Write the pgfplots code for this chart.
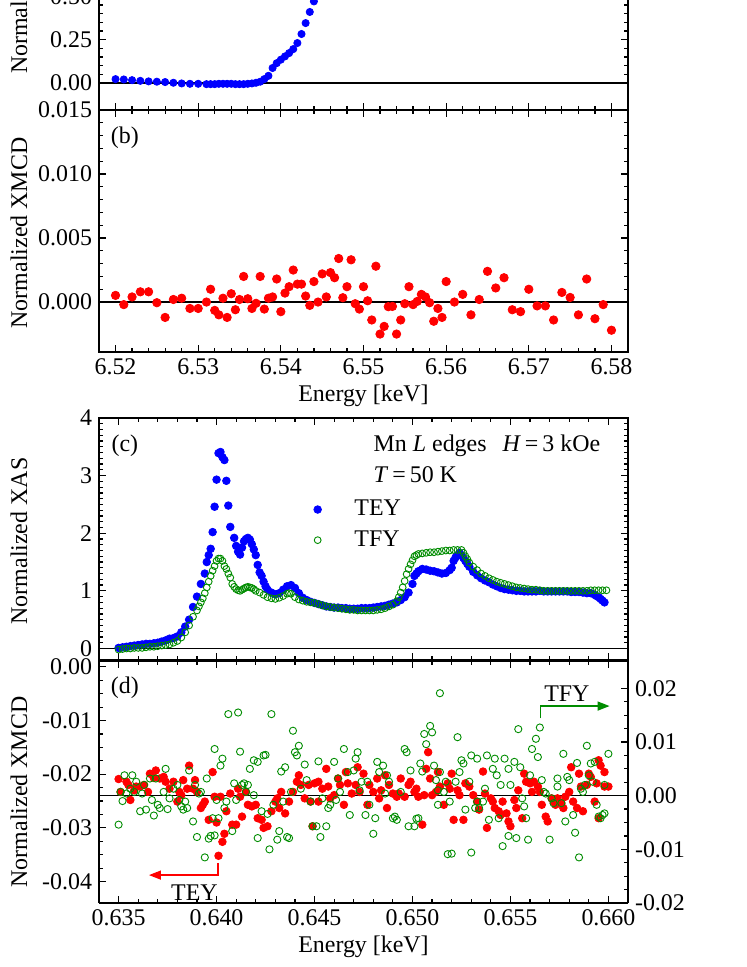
\documentclass[border=0pt]{standalone}
\usepackage{fontspec}
\setmainfont{Liberation Serif}
\usepackage{pgfplots}
\usepackage{pgfplotstable}
\pgfplotsset{compat=1.18}
\usetikzlibrary{arrows.meta}

\definecolor{tfygreen}{RGB}{0,140,0}

% panel (a): XAS near the K edge (top cut off)
\pgfplotstableread{
x y
6.5200 0.023
6.5210 0.021
6.5220 0.017
6.5230 0.013
6.5240 0.010
6.5250 0.008
6.5260 0.006
6.5270 0.002
6.5280 -0.002
6.5290 -0.004
6.5300 -0.004
6.5310 -0.006
6.5315 -0.006
6.5320 -0.006
6.5325 -0.004
6.5330 -0.004
6.5335 -0.004
6.5340 -0.004
6.5345 -0.006
6.5350 -0.006
6.5355 -0.006
6.5360 -0.004
6.5365 -0.002
6.5370 0.002
6.5375 0.008
6.5380 0.023
6.5385 0.042
6.5390 0.087
6.5395 0.115
6.5400 0.135
6.5405 0.154
6.5410 0.173
6.5415 0.196
6.5420 0.231
6.5425 0.283
6.5430 0.346
6.5435 0.410
6.5440 0.471
}\xasK

% panel (b): XMCD, K edge
\pgfplotstableread{
x y
6.5200 0.00052
6.5210 -0.0002
6.5220 0.0004
6.5230 0.0008
6.5240 0.0008
6.5250 -0.00005
6.5260 -0.0012
6.5270 0.0002
6.5280 0.0003
6.5290 -0.0005
6.5300 -0.0005
6.5310 0.0000
6.5315 0.0010
6.5320 -0.00065
6.5325 -0.0010
6.5330 0.0003
6.5335 -0.0012
6.5340 0.00065
6.5345 -0.0006
6.5350 0.0002
6.5355 0.0020
6.5360 0.00026
6.5365 -0.0005
6.5370 -0.0001
6.5375 0.0020
6.5380 -0.00055
6.5385 0.0003
6.5390 0.0004
6.5395 0.0018
6.5400 -0.00075
6.5405 0.0007
6.5410 0.0012
6.5415 0.0025
6.5420 0.0014
6.5425 0.0014
6.5430 0.00047
6.5435 -0.00026
6.5440 0.0016
6.5445 0.0000
6.5450 0.0022
6.5455 0.0004
6.5460 0.0023
6.5465 0.0019
6.5470 0.0034
6.5475 0.00034
6.5480 0.0012
6.5485 0.0033
6.5490 -0.00013
6.5495 -0.00055
6.5500 0.0012
6.5505 0.0001
6.5510 -0.0014
6.5515 0.0028
6.5520 -0.0025
6.5525 -0.0019
6.5530 -0.00036
6.5535 -0.00034
6.5540 -0.0025
6.5545 -0.0014
6.5550 -0.00013
6.5555 0.0012
6.5560 -0.0002
6.5565 0.00005
6.5570 0.0006
6.5575 0.0004
6.5580 -0.00005
6.5585 -0.0015
6.5590 -0.0005
6.5595 -0.0012
6.5600 0.0016
6.5610 0.0000
6.5620 0.0006
6.5630 -0.0010
6.5640 0.0002
6.5650 0.0024
6.5660 0.0011
6.5670 0.0019
6.5680 -0.0006
6.5690 -0.00075
6.5700 0.0010
6.5710 -0.0003
6.5720 -0.0003
6.5730 -0.0014
6.5740 0.00075
6.5750 0.00036
6.5760 -0.0010
6.5770 0.0018
6.5780 -0.0013
6.5790 -0.0002
6.5800 -0.0022
}\xmcdK

% panel (c): XAS, Mn L edges
\pgfplotstableread{
x y
0.6350 0.01
0.6352 0.02
0.6354 0.03
0.6356 0.04
0.6358 0.05
0.6360 0.06
0.6362 0.07
0.6364 0.08
0.6366 0.08
0.6368 0.09
0.6370 0.10
0.6372 0.12
0.6374 0.14
0.6376 0.17
0.6378 0.18
0.6380 0.21
0.6382 0.28
0.6384 0.38
0.6386 0.50
0.6388 0.72
0.6390 0.90
0.6392 1.12
0.6394 1.30
0.6395 1.50
0.6396 1.62
0.6397 1.73
0.6398 2.02
0.6399 2.46
0.6400 2.93
0.6401 3.39
0.6402 3.41
0.6403 3.32
0.6404 3.27
0.6405 2.91
0.6406 2.48
0.6407 2.11
0.6409 1.92
0.6410 1.78
0.6411 1.68
0.6412 1.63
0.6413 1.75
0.6414 1.86
0.6415 1.90
0.6416 1.92
0.6417 1.89
0.6418 1.81
0.6419 1.72
0.6420 1.62
0.6421 1.45
0.6422 1.32
0.6423 1.26
0.6424 1.16
0.6425 1.08
0.6426 1.02
0.6428 0.97
0.6430 0.94
0.6432 0.96
0.6434 1.02
0.6436 1.08
0.6438 1.10
0.6440 1.05
0.6442 0.96
0.6444 0.88
0.6446 0.84
0.6448 0.81
0.6450 0.79
0.6452 0.77
0.6454 0.75
0.6456 0.73
0.6458 0.72
0.6460 0.71
0.6462 0.71
0.6464 0.70
0.6466 0.70
0.6468 0.69
0.6470 0.69
0.6472 0.69
0.6474 0.70
0.6476 0.70
0.6478 0.70
0.6480 0.71
0.6482 0.72
0.6484 0.73
0.6486 0.74
0.6488 0.76
0.6490 0.78
0.6492 0.80
0.6494 0.84
0.6496 0.89
0.6498 0.97
0.6500 1.12
0.6501 1.26
0.6502 1.30
0.6503 1.34
0.6505 1.38
0.6507 1.37
0.6509 1.35
0.6511 1.34
0.6513 1.32
0.6515 1.30
0.6517 1.31
0.6519 1.36
0.6520 1.40
0.6521 1.52
0.6522 1.58
0.6523 1.62
0.6524 1.66
0.6525 1.62
0.6526 1.57
0.6527 1.52
0.6528 1.47
0.6529 1.42
0.6531 1.33
0.6533 1.27
0.6535 1.22
0.6537 1.18
0.6539 1.15
0.6541 1.11
0.6543 1.08
0.6545 1.05
0.6547 1.03
0.6549 1.02
0.6551 1.01
0.6553 1.00
0.6555 1.00
0.6557 0.99
0.6559 0.99
0.6561 0.99
0.6563 0.99
0.6565 1.00
0.6567 0.99
0.6569 0.99
0.6571 0.99
0.6573 0.99
0.6575 0.99
0.6577 0.99
0.6579 0.99
0.6581 0.98
0.6583 0.98
0.6585 0.98
0.6587 0.97
0.6589 0.96
0.6591 0.96
0.6593 0.93
0.6594 0.91
0.6595 0.89
0.6596 0.86
0.6597 0.83
0.6598 0.80
}\xasTEY

\pgfplotstableread{
x y
0.6350 -0.02
0.6352 -0.01
0.6354 0.00
0.6356 0.00
0.6358 0.01
0.6360 0.01
0.6362 0.01
0.6364 0.02
0.6366 0.03
0.6368 0.03
0.6370 0.04
0.6372 0.05
0.6374 0.06
0.6376 0.07
0.6378 0.10
0.6380 0.13
0.6382 0.19
0.6384 0.28
0.6386 0.40
0.6388 0.55
0.6390 0.66
0.6391 0.73
0.6392 0.80
0.6393 0.87
0.6394 0.96
0.6395 1.06
0.6396 1.16
0.6397 1.26
0.6398 1.35
0.6399 1.43
0.6400 1.52
0.6401 1.56
0.6402 1.56
0.6403 1.52
0.6404 1.43
0.6405 1.38
0.6406 1.30
0.6407 1.23
0.6408 1.12
0.6409 1.07
0.6410 1.03
0.6411 1.01
0.6412 1.00
0.6413 1.02
0.6414 1.04
0.6415 1.06
0.6416 1.07
0.6417 1.06
0.6418 1.05
0.6419 1.03
0.6420 1.00
0.6422 0.97
0.6424 0.93
0.6426 0.89
0.6428 0.87
0.6430 0.86
0.6432 0.88
0.6434 0.91
0.6436 0.95
0.6437 0.96
0.6438 0.95
0.6440 0.89
0.6442 0.85
0.6444 0.83
0.6446 0.81
0.6448 0.80
0.6450 0.79
0.6452 0.77
0.6454 0.75
0.6456 0.73
0.6458 0.72
0.6460 0.71
0.6462 0.70
0.6464 0.69
0.6466 0.68
0.6468 0.67
0.6470 0.67
0.6472 0.66
0.6474 0.66
0.6476 0.66
0.6478 0.66
0.6480 0.66
0.6482 0.67
0.6484 0.68
0.6486 0.70
0.6488 0.73
0.6490 0.76
0.6492 0.82
0.6493 0.89
0.6494 0.97
0.6495 1.06
0.6496 1.17
0.6497 1.29
0.6498 1.38
0.6499 1.46
0.6500 1.53
0.6501 1.60
0.6502 1.62
0.6503 1.64
0.6505 1.65
0.6507 1.66
0.6509 1.67
0.6511 1.67
0.6513 1.68
0.6515 1.69
0.6517 1.70
0.6519 1.70
0.6521 1.71
0.6523 1.71
0.6525 1.71
0.6526 1.66
0.6527 1.60
0.6528 1.55
0.6529 1.49
0.6531 1.42
0.6533 1.36
0.6535 1.30
0.6537 1.26
0.6539 1.22
0.6541 1.19
0.6543 1.16
0.6545 1.14
0.6547 1.12
0.6549 1.10
0.6551 1.08
0.6553 1.06
0.6555 1.05
0.6557 1.04
0.6559 1.03
0.6561 1.02
0.6563 1.02
0.6565 1.01
0.6567 1.00
0.6569 1.00
0.6571 1.00
0.6573 1.00
0.6575 1.00
0.6577 1.00
0.6579 1.00
0.6581 1.00
0.6583 1.00
0.6585 1.00
0.6587 1.00
0.6589 1.00
0.6591 1.01
0.6593 1.01
0.6595 1.01
0.6597 1.01
0.6599 1.01
}\xasTFY

% panel (d): XMCD, TEY on the left scale
\pgfplotstableread{
x y
0.6350 -0.0209
0.6351 -0.0233
0.6354 -0.0214
0.6355 -0.0220
0.6356 -0.0248
0.6358 -0.0230
0.6359 -0.0223
0.6361 -0.0223
0.6363 -0.0220
0.6365 -0.0233
0.6366 -0.0199
0.6368 -0.0207
0.6369 -0.0193
0.6371 -0.0208
0.6373 -0.0205
0.6374 -0.0214
0.6376 -0.0227
0.6378 -0.0214
0.6380 -0.0251
0.6381 -0.0233
0.6382 -0.0239
0.6383 -0.0211
0.6385 -0.0227
0.6386 -0.0184
0.6388 -0.0227
0.6389 -0.0211
0.6390 -0.0233
0.6392 -0.0263
0.6393 -0.0257
0.6394 -0.0251
0.6396 -0.0285
0.6398 -0.0196
0.6399 -0.0242
0.6400 -0.0290
0.6401 -0.0352
0.6402 -0.0242
0.6403 -0.0326
0.6404 -0.0311
0.6405 -0.0269
0.6407 -0.0236
0.6408 -0.0294
0.6410 -0.0294
0.6411 -0.0227
0.6412 -0.0242
0.6413 -0.0279
0.6415 -0.0233
0.6416 -0.0257
0.6418 -0.0260
0.6420 -0.0257
0.6421 -0.0282
0.6423 -0.0285
0.6424 -0.0300
0.6426 -0.0297
0.6428 -0.0269
0.6430 -0.0251
0.6431 -0.0245
0.6432 -0.0263
0.6433 -0.0233
0.6435 -0.0273
0.6437 -0.0251
0.6439 -0.0233
0.6441 -0.0214
0.6442 -0.0202
0.6443 -0.0220
0.6445 -0.0245
0.6447 -0.0220
0.6448 -0.0251
0.6449 -0.0297
0.6450 -0.0217
0.6452 -0.0214
0.6452 -0.0251
0.6454 -0.0227
0.6456 -0.0190
0.6457 -0.0223
0.6458 -0.0245
0.6460 -0.0239
0.6462 -0.0208
0.6463 -0.0220
0.6465 -0.0257
0.6466 -0.0196
0.6467 -0.0217
0.6469 -0.0236
0.6471 -0.0220
0.6472 -0.0187
0.6473 -0.0233
0.6475 -0.0199
0.6477 -0.0257
0.6478 -0.0220
0.6480 -0.0233
0.6482 -0.0208
0.6483 -0.0245
0.6484 -0.0230
0.6486 -0.0202
0.6487 -0.0263
0.6488 -0.0220
0.6490 -0.0236
0.6492 -0.0242
0.6493 -0.0236
0.6494 -0.0208
0.6496 -0.0242
0.6498 -0.0220
0.6499 -0.0214
0.6501 -0.0233
0.6502 -0.0227
0.6503 -0.0242
0.6505 -0.0294
0.6506 -0.0239
0.6507 -0.0190
0.6508 -0.0159
0.6509 -0.0208
0.6510 -0.0239
0.6512 -0.0233
0.6513 -0.0196
0.6514 -0.0223
0.6516 -0.0257
0.6518 -0.0217
0.6519 -0.0227
0.6520 -0.0199
0.6521 -0.0285
0.6523 -0.0230
0.6524 -0.0239
0.6526 -0.0285
0.6527 -0.0217
0.6529 -0.0223
0.6531 -0.0239
0.6533 -0.0251
0.6534 -0.0266
0.6536 -0.0195
0.6537 -0.0236
0.6538 -0.0300
0.6540 -0.0245
0.6541 -0.0251
0.6542 -0.0263
0.6544 -0.0269
0.6545 -0.0276
0.6546 -0.0251
0.6548 -0.0273
0.6549 -0.0288
0.6550 -0.0297
0.6552 -0.0248
0.6553 -0.0263
0.6554 -0.0230
0.6556 -0.0282
0.6557 -0.0199
0.6558 -0.0214
0.6560 -0.0217
0.6561 -0.0233
0.6562 -0.0214
0.6564 -0.0223
0.6565 -0.0233
0.6566 -0.0257
0.6568 -0.0279
0.6569 -0.0288
0.6571 -0.0245
0.6572 -0.0251
0.6573 -0.0257
0.6574 -0.0245
0.6576 -0.0254
0.6577 -0.0263
0.6578 -0.0242
0.6580 -0.0233
0.6581 -0.0187
0.6582 -0.0251
0.6584 -0.0263
0.6585 -0.0199
0.6586 -0.0223
0.6587 -0.0269
0.6589 -0.0220
0.6590 -0.0199
0.6591 -0.0205
0.6593 -0.0251
0.6594 -0.0217
0.6595 -0.0282
0.6595 -0.0174
0.6596 -0.0184
0.6598 -0.0223
0.6598 -0.0196
0.6600 -0.0223
}\mcdTEY

% panel (d): XMCD, TFY on the right scale
\pgfplotstableread{
x y
0.6350 -0.0054
0.6351 0.0007
0.6352 -0.0010
0.6353 0.0038
0.6354 0.0004
0.6356 0.0013
0.6357 0.0038
0.6358 0.0007
0.6359 0.0026
0.6361 -0.0029
0.6362 0.0004
0.6363 0.0020
0.6364 -0.0026
0.6366 0.0032
0.6367 -0.0008
0.6368 -0.0037
0.6369 0.0032
0.6370 -0.0017
0.6371 -0.0023
0.6373 0.0007
0.6374 0.0050
0.6375 -0.0025
0.6376 -0.0005
0.6378 0.0013
0.6380 0.0020
0.6381 -0.0008
0.6382 -0.0020
0.6383 -0.0026
0.6384 -0.0011
0.6385 -0.0023
0.6386 0.0047
0.6388 -0.0048
0.6389 0.0020
0.6390 -0.0077
0.6391 0.0004
0.6392 0.0007
0.6394 -0.0115
0.6395 0.0032
0.6396 -0.0080
0.6397 -0.0075
0.6398 -0.0042
0.6399 -0.0074
0.6399 0.0087
0.6400 -0.0008
0.6401 -0.0042
0.6402 0.0056
0.6403 0.0069
0.6404 -0.0023
0.6405 -0.0011
0.6406 0.0152
0.6408 -0.0066
0.6409 0.0023
0.6410 -0.0008
0.6411 0.0155
0.6412 0.0082
0.6413 0.0020
0.6414 0.0023
0.6415 0.0007
0.6416 0.0020
0.6417 0.0050
0.6419 0.0066
0.6419 0.0001
0.6421 0.0063
0.6421 -0.0079
0.6423 -0.0029
0.6424 0.0075
0.6425 0.0076
0.6426 -0.0034
0.6427 -0.0100
0.6428 0.0152
0.6429 -0.0017
0.6431 -0.0082
0.6432 -0.0066
0.6433 0.0045
0.6434 -0.0011
0.6435 0.0053
0.6436 -0.0077
0.6437 -0.0079
0.6438 0.0007
0.6439 0.0121
0.6440 0.0081
0.6441 0.0075
0.6442 0.0093
0.6443 0.0013
0.6445 0.0058
0.6446 0.0029
0.6448 -0.0011
0.6449 -0.0057
0.6451 -0.0057
0.6452 0.0064
0.6453 -0.0077
0.6454 -0.0005
0.6456 -0.0057
0.6457 -0.0023
0.6458 -0.0017
0.6460 0.0063
0.6461 -0.0008
0.6462 0.0032
0.6463 0.0007
0.6465 0.0087
0.6467 0.0044
0.6468 -0.0036
0.6470 0.0047
0.6471 0.0069
0.6472 0.0081
0.6473 0.0010
0.6474 0.0026
0.6476 -0.0036
0.6477 0.0026
0.6478 -0.0017
0.6480 -0.0071
0.6481 -0.0042
0.6482 0.0063
0.6483 0.0044
0.6485 0.0056
0.6486 0.0004
0.6487 0.0038
0.6488 0.0026
0.6490 -0.0042
0.6491 -0.0039
0.6492 -0.0045
0.6494 0.0007
0.6496 0.0087
0.6497 0.0081
0.6498 -0.0057
0.6499 0.0047
0.6501 -0.0057
0.6502 -0.0043
0.6503 -0.0042
0.6504 0.0060
0.6505 0.0045
0.6506 0.0115
0.6507 0.0096
0.6509 0.0130
0.6510 0.0118
0.6511 0.0056
0.6512 0.0029
0.6513 -0.0017
0.6513 0.0010
0.6514 0.0191
0.6514 0.0044
0.6516 0.0007
0.6517 0.0026
0.6518 -0.0109
0.6519 -0.0011
0.6520 -0.0108
0.6522 0.0026
0.6523 0.0109
0.6524 0.0044
0.6525 0.0066
0.6526 0.0060
0.6527 -0.0026
0.6529 0.0026
0.6530 0.0075
0.6530 -0.0106
0.6532 -0.0023
0.6533 -0.0011
0.6533 0.0069
0.6534 -0.0023
0.6536 -0.0011
0.6537 0.0013
0.6538 0.0075
0.6539 -0.0045
0.6541 0.0050
0.6542 0.0069
0.6543 0.0038
0.6544 -0.0042
0.6545 0.0020
0.6546 -0.0094
0.6547 0.0069
0.6549 0.0050
0.6549 -0.0075
0.6550 0.0020
0.6552 0.0063
0.6553 -0.0079
0.6554 0.0124
0.6555 0.0053
0.6556 -0.0005
0.6557 -0.0020
0.6558 -0.0042
0.6559 -0.0082
0.6560 0.0038
0.6561 0.0087
0.6563 0.0106
0.6564 0.0072
0.6565 0.0127
0.6566 0.0029
0.6567 0.0007
0.6568 0.0004
0.6570 -0.0082
0.6571 -0.0005
0.6572 -0.0014
0.6574 0.0017
0.6574 0.0032
0.6576 -0.0014
0.6577 0.0078
0.6578 -0.0048
0.6579 0.0035
0.6580 0.0029
0.6582 -0.0036
0.6583 -0.0069
0.6584 0.0061
0.6585 -0.0115
0.6586 0.0013
0.6587 0.0007
0.6588 0.0020
0.6589 0.0093
0.6590 0.0038
0.6591 0.0060
0.6592 0.0026
0.6593 0.0063
0.6594 -0.0017
0.6595 -0.0039
0.6596 -0.0042
0.6597 -0.0036
0.6598 0.0020
0.6598 -0.0033
0.6600 0.0078
}\mcdTFY

\pgfplotsset{
  panel/.style={
    scale only axis, width=264.5bp, height=121bp,
    at={(49.5bp,#1)}, anchor=south west,
    tick align=inside,
    major tick length=3.5bp, minor tick length=2bp,
    axis line style={line width=0.75bp},
    every tick/.style={black, line width=0.6bp},
    tick label style={font=\fontsize{12}{14}\selectfont},
    scaled x ticks=false, scaled y ticks=false,
    clip=false,
  },
  kedge/.style={xmin=6.518, xmax=6.582,
    xtick={6.52,6.53,6.54,6.55,6.56,6.57,6.58}, minor x tick num=4},
  ledge/.style={xmin=0.634, xmax=0.661,
    xtick={0.635,0.640,0.645,0.650,0.655,0.660}, minor x tick num=4},
}
\newcommand{\lbl}{\fontsize{12}{14}\selectfont}

\begin{document}
\begin{tikzpicture}
\useasboundingbox (0,0) rectangle (373.5bp,483.5bp);

% (a)
\begin{axis}[panel=428.5bp, kedge, xticklabels={},
  ymin=-0.155, ymax=1.24,
  ytick={0,0.25,0.5}, yticklabels={0.00,0.25,0.50},
  minor y tick num=4]
\addplot[black, line width=0.75bp, forget plot] coordinates {(6.518,0) (6.582,0)};
\addplot[only marks, mark=*, mark size=1.8bp, blue, mark options={fill=blue}] table {\xasK};
\end{axis}

% (b)
\begin{axis}[panel=307.5bp, kedge,
  xticklabels={6.52,6.53,6.54,6.55,6.56,6.57,6.58},
  ymin=-0.0039, ymax=0.015,
  ytick={0,0.005,0.01,0.015}, yticklabels={0.000,0.005,0.010,0.015},
  minor y tick num=4]
\addplot[black, line width=0.75bp, forget plot] coordinates {(6.518,0) (6.582,0)};
\addplot[only marks, mark=*, mark size=2.1bp, red, mark options={fill=red}] table {\xmcdK};
\node[font=\lbl] at (rel axis cs:0.049,0.885) {(b)};
\end{axis}

% (c)
\begin{axis}[panel=153.5bp, ledge, xticklabels={},
  ymin=-0.2, ymax=4,
  ytick={0,1,2,3,4}, yticklabels={0,1,2,3,4},
  minor y tick num=9,
  legend style={at={(axis cs:0.6451,2.215)}, anchor=west, xshift=-1.5bp, yshift=-2bp,
    draw=none, fill=none, font=\lbl, row sep=2bp, inner sep=0pt},
  legend cell align=left]
\addplot[black, line width=0.75bp, forget plot] coordinates {(0.634,0) (0.661,0)};
\addplot[only marks, mark=*, mark size=1.9bp, blue, mark options={fill=blue}] table {\xasTEY};
\addlegendentry{\hspace{14.5bp}TEY}
\addplot[only marks, mark=o, mark size=1.7bp, tfygreen, mark options={line width=0.45bp}] table {\xasTFY};
\addlegendentry{\hspace{14.5bp}TFY}
\node[font=\lbl] at (rel axis cs:0.049,0.885) {(c)};
\node[font=\lbl, anchor=west, inner sep=0pt] at (axis cs:0.64800,3.52) {Mn \textit{L} edges\hspace{8bp}\textit{H}\,=\,3 kOe};
\node[font=\lbl, anchor=west, inner sep=0pt] at (axis cs:0.64800,3.01) {\textit{T}\,=\,50 K};
\end{axis}

% (d) left scale, TEY
\begin{axis}[panel=32bp, ledge,
  xticklabels={0.635,0.640,0.645,0.650,0.655,0.660},
  axis y line*=left,
  ymin=-0.044, ymax=0.0011,
  ytick={-0.04,-0.03,-0.02,-0.01,0}, yticklabels={-0.04,-0.03,-0.02,-0.01,0.00},
  minor y tick num=3]
\addplot[black, line width=0.75bp, forget plot] coordinates {(0.634,-0.024) (0.661,-0.024)};
\addplot[only marks, mark=*, mark size=1.9bp, red, mark options={fill=red}] table {\mcdTEY};
\node[font=\lbl] at (rel axis cs:0.049,0.889) {(d)};
\draw[red, line width=0.75bp, -{Triangle[length=6bp,width=4.5bp]}]
  (axis cs:0.64007,-0.0365) -- (axis cs:0.64007,-0.0388) -- (axis cs:0.63655,-0.0388);
\node[font=\lbl] at (axis cs:0.63887,-0.0420) {TEY};
\end{axis}

% (d) right scale, TFY
\begin{axis}[panel=32bp, ledge,
  axis x line=none, axis y line*=right,
  ymin=-0.02, ymax=0.0251,
  ytick={-0.02,-0.01,0,0.01,0.02}, yticklabels={-0.02,-0.01,0.00,0.01,0.02},
  minor y tick num=3]
\addplot[only marks, mark=o, mark size=1.8bp, tfygreen, mark options={line width=0.45bp}] table {\mcdTFY};
\draw[tfygreen, line width=0.75bp, -{Triangle[length=6bp,width=4.5bp]}]
  (axis cs:0.65654,0.0144) -- (axis cs:0.65654,0.0167) -- (axis cs:0.66006,0.0167);
\node[font=\lbl] at (axis cs:0.65788,0.0190) {TFY};
\end{axis}

% axis titles
\node[font=\lbl, rotate=90, anchor=west] at (9.5bp,443bp) {Normalized XAS};
\node[font=\lbl, rotate=90] at (9.5bp,367bp) {Normalized XMCD};
\node[font=\lbl, rotate=90] at (9.5bp,213bp) {Normalized XAS};
\node[font=\lbl, rotate=90] at (9.5bp,87.5bp) {Normalized XMCD};
\node[font=\lbl, anchor=base] at (181.75bp,282.5bp) {Energy [keV]};
\node[font=\lbl, anchor=base] at (181.75bp,7.5bp) {Energy [keV]};
\end{tikzpicture}
\end{document}
